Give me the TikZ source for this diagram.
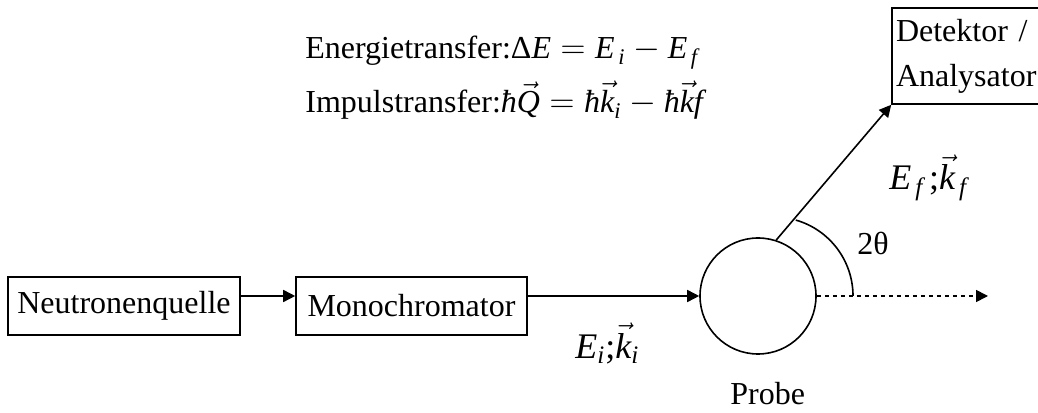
\documentclass[tikz,border=0pt]{standalone}
\usepackage{amsmath}
\usepackage{fontspec}
\setmainfont{Liberation Serif}
\usetikzlibrary{arrows.meta, positioning}
\definecolor{ink}{HTML}{000000}
\newcommand{\mi}[1]{\textit{#1}}
\tikzset{
  box/.style={draw=ink, line width=0.8pt, inner sep=2pt,
              font=\fontsize{16}{22.5}\selectfont, text=ink},
  probe/.style={circle, draw=ink, line width=0.8pt, minimum size=58pt, inner sep=0pt},
  lbl/.style={inner sep=0pt, anchor=base west, font=\fontsize{16}{19}\selectfont, text=ink},
  mlbl/.style={lbl, font=\fontsize{18}{21}\selectfont},
  fl/.style={-{Triangle[length=6pt, width=6pt]}, line width=0.8pt, draw=ink},
}

\begin{document}
\begin{tikzpicture}[x=0.5pt, y=0.5pt]
    \useasboundingbox (0,0) rectangle (1038,412);
    \node[box, minimum width=116pt, minimum height=29pt] (nq) at (124,106) {Neutronenquelle};
    \node[box, minimum width=115.5pt, minimum height=29pt] (mono) at (411.5,106) {Monochromator};
    \node[probe] (pr) at (758,116) {};
    \node[box, minimum width=80pt, minimum height=48pt, text width=76pt, align=left] (det) at (972,356) {Detektor /\\Analysator};
    \coordinate (out) at (988,116);
    \coordinate (arcst) at (853,116);
    \node[lbl] (en) at (305,353) {Energietransfer:\textup{Δ}$\mi{E} = \mi{E}_{\,\mi{i}} - \mi{E}_{\,\mi{f}}$};
    \node[lbl] (imp) at (305,299) {Impulstransfer:$\mi{ħ}\vec{\mi{Q}} = \mi{ħ}\vec{\mi{k}}_{\mi{i}} - \mi{ħ}\vec{\mi{k}}\mi{f}$};
    \node[mlbl] (ei) at (575,54) {$\mi{E}_{\mi{i}}\textup{;}\vec{\mi{k}}_{\mi{i}}$};
    \node[mlbl] (ef) at (889,222) {$\mi{E}_{\,\mi{f}}\,\textup{;}\vec{\mi{k}}_{\,\mi{f}}$};
    \node[lbl] (tt) at (857,157) {2θ};
    \node[lbl] (pl) at (730,7) {Probe};
    \draw[fl] ([yshift=5pt]nq.east) -- ([yshift=5pt]mono.west);
    \draw[fl] ([yshift=5pt]mono.east) -- (pr.west);
    \draw[fl] (pr.72) -- (det.south west);
    \draw[fl, dash pattern=on 2pt off 2pt] (pr.east) -- (out);
    \draw[line width=0.8pt, draw=ink] (arcst) arc[start angle=0, end angle=74, radius=39.5pt];
\end{tikzpicture}
\end{document}
